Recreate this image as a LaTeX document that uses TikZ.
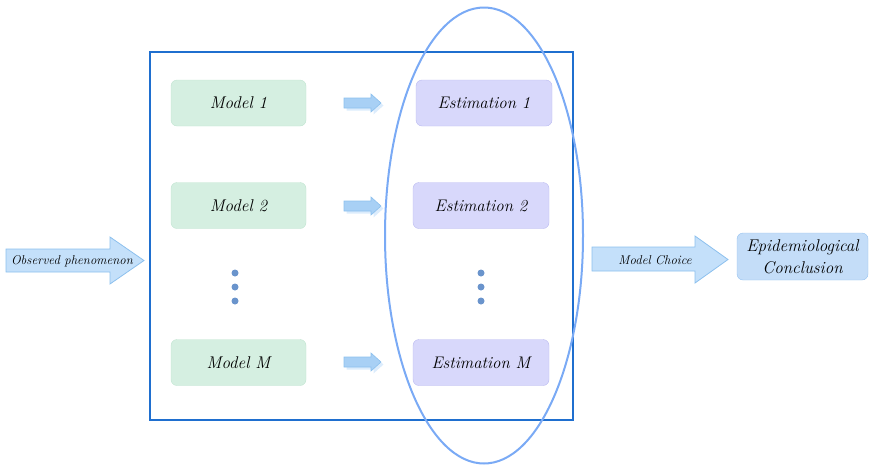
\documentclass[tikz,border=0pt]{standalone}
\usetikzlibrary{shapes.geometric}
\definecolor{frameblue}{RGB}{31,111,207}
\definecolor{ellblue}{RGB}{122,170,245}
\definecolor{modfill}{RGB}{213,239,225}
\definecolor{moddraw}{RGB}{192,228,208}
\definecolor{estfill}{RGB}{216,216,251}
\definecolor{estdraw}{RGB}{186,186,240}
\definecolor{conffill}{RGB}{196,221,248}
\definecolor{condraw}{RGB}{150,195,240}
\definecolor{arrfill}{RGB}{196,224,250}
\definecolor{arrdraw}{RGB}{140,192,238}
\definecolor{smarrfill}{RGB}{168,208,245}
\definecolor{dotblue}{RGB}{106,148,204}
\tikzset{
  modelbox/.style={draw=moddraw, fill=modfill, rounded corners=6pt, minimum width=135pt, minimum height=46pt, font=\fontsize{17}{20}\selectfont\itshape},
  estbox/.style={draw=estdraw, fill=estfill, rounded corners=6pt, minimum width=136pt, minimum height=46pt, font=\fontsize{16.8}{20}\selectfont\itshape},
  conbox/.style={draw=condraw, fill=conffill, rounded corners=6pt, minimum width=131pt, minimum height=47pt, align=center, inner sep=0pt, font=\fontsize{17}{22}\selectfont\itshape},
  bigarrow/.style={draw=arrdraw, fill=arrfill, line width=0.8pt, line join=miter},
  smallarrow/.style={draw=arrdraw, fill=smarrfill, line width=0.6pt},
  arrowshadow/.style={fill=arrfill, draw=none, opacity=0.6},
  arrowtext/.style={font=\fontsize{12.8}{15}\selectfont\itshape, inner sep=0pt},
  vdot/.style={circle, fill=dotblue, inner sep=0pt, minimum size=7pt},
}
\newcommand\smallblockarrow[2]{% x-start, y-center
  \fill[arrowshadow] (#1+2.5,#2-5+2.5) -- (#1+27+2.5,#2-5+2.5) -- (#1+27+2.5,#2-9+2.5) -- (#1+37+2.5,#2+2.5) -- (#1+27+2.5,#2+9+2.5) -- (#1+27+2.5,#2+5+2.5) -- (#1+2.5,#2+5+2.5) -- cycle;
  \draw[smallarrow] (#1,#2-5) -- (#1+27,#2-5) -- (#1+27,#2-9) -- (#1+37,#2) -- (#1+27,#2+9) -- (#1+27,#2+5) -- (#1,#2+5) -- cycle;
}
\begin{document}
\begin{tikzpicture}[x=1pt,y=-1pt]
\useasboundingbox (0,0) rectangle (869,464);
% frame
\node[draw=frameblue, line width=1.4pt, minimum width=423pt, minimum height=368pt, inner sep=0pt] (frame) at (361.5,236) {};
% model boxes
\node[modelbox] (m1) at (238.5,103) {Model 1};
\node[modelbox] (m2) at (238.5,205.5) {Model 2};
\node[modelbox] (mM) at (238.5,362.5) {Model M};
% estimation boxes
\node[estbox] (e1) at (484,103) {Estimation 1};
\node[estbox] (e2) at (481,205.5) {Estimation 2};
\node[estbox] (eM) at (481,362.5) {Estimation M};
% dots
\node[vdot] (d1) at (235,273) {};
\node[vdot] (d2) at (235,287) {};
\node[vdot] (d3) at (235,301) {};
\node[vdot] (d4) at (481,273) {};
\node[vdot] (d5) at (481,287) {};
\node[vdot] (d6) at (481,301) {};
% small arrows
\smallblockarrow{344}{103}
\smallblockarrow{344}{206}
\smallblockarrow{344}{362}
% ellipse
\node[ellipse, draw=ellblue, line width=2pt, minimum width=198pt, minimum height=456pt, inner sep=0pt] (ell) at (484,235.5) {};
% observed phenomenon arrow
\draw[bigarrow] (6,249) -- (110,249) -- (110,237) -- (144,260.5) -- (110,284) -- (110,272) -- (6,272) -- cycle;
\node[arrowtext] (obs) at (72,261) {Observed phenomenon};
% model choice arrow
\draw[bigarrow] (592,247) -- (695,247) -- (695,236) -- (728,259.5) -- (695,283) -- (695,271) -- (592,271) -- cycle;
\node[arrowtext] (mc) at (655,260) {Model Choice};
% conclusion
\node[conbox] (con) at (802.5,256.5) {Epidemiological\\Conclusion};
\end{tikzpicture}
\end{document}
